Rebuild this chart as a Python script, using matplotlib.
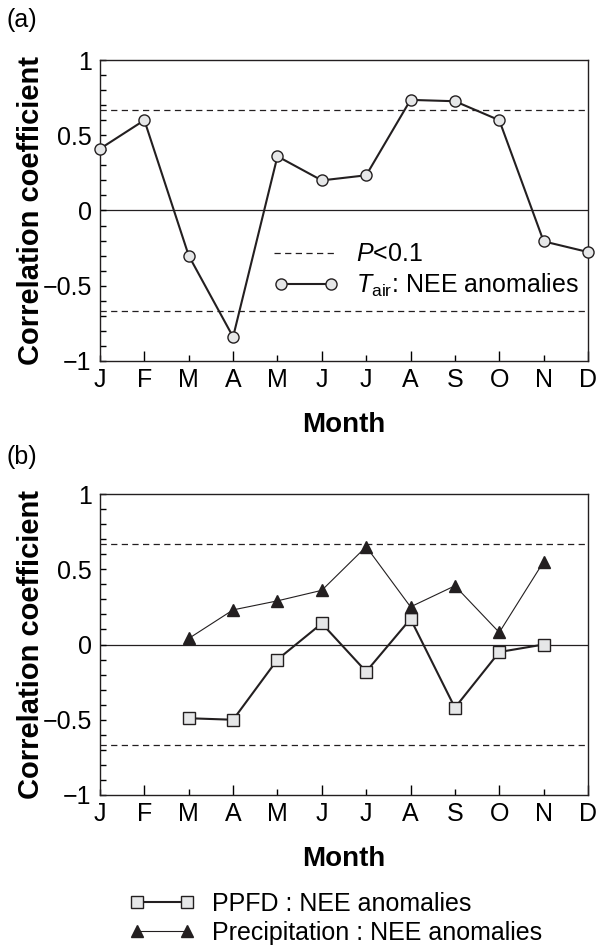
import matplotlib
matplotlib.use("Agg")
import matplotlib.pyplot as plt
from matplotlib.legend_handler import HandlerLine2D
import numpy as np

plt.rcParams.update({
    "font.family": ["Liberation Sans", "DejaVu Sans"],
    "mathtext.fontset": "custom",
    "mathtext.rm": "Liberation Sans",
    "mathtext.it": "Liberation Sans:italic",
    "axes.unicode_minus": True,
    "axes.linewidth": 1.0,
})

INK = "#231f20"
FACE = "#e6e7e8"
DASH = (0, (5, 3.5))

months = ["J", "F", "M", "A", "M", "J", "J", "A", "S", "O", "N", "D"]
sig_level = 0.67

# panel (a): T_air vs NEE anomalies, Jan..Dec
tair_r = [0.41, 0.60, -0.30, -0.84, 0.36, 0.20, 0.234, 0.735, 0.726, 0.60, -0.205, -0.276]

# panel (b): Mar..Nov
b_months = [2, 3, 4, 5, 6, 7, 8, 9, 10]
ppfd_r = [-0.49, -0.50, -0.10, 0.14, -0.18, 0.17, -0.42, -0.05, 0.0]
precip_r = [0.04, 0.23, 0.29, 0.36, 0.65, 0.25, 0.39, 0.08, 0.55]

W, H = 597, 946
fig = plt.figure(figsize=(W / 100, H / 100), dpi=100)
FS = 18


def frame(ax):
    ax.set_xlim(0, 11)
    ax.set_ylim(-1, 1)
    ax.axhline(0, color=INK, linewidth=0.9, zorder=1)
    for v in (sig_level, -sig_level):
        ax.axhline(v, color=INK, linewidth=0.9, linestyle=DASH, zorder=1)
    odd = list(range(1, 12, 2))
    even = list(range(0, 12, 2))
    ax.set_xticks(odd, [months[i] for i in odd])
    ax.set_xticks(even, [months[i] for i in even], minor=True)
    ax.set_yticks([-1, -0.5, 0, 0.5, 1], ["\u22121", "\u22120.5", "0", "0.5", "1"])
    ax.set_yticks(np.arange(-0.9, 0.95, 0.1), minor=True)
    ax.tick_params(axis="x", which="major", direction="in", length=7, width=1,
                   labelsize=FS, pad=5, top=False)
    ax.tick_params(axis="x", which="minor", direction="in", length=4, width=1,
                   labelsize=FS, pad=5, top=False)
    ax.tick_params(axis="y", which="both", direction="in", length=4, width=1,
                   labelsize=FS, pad=6, right=False)
    ax.set_xlabel("Month", fontsize=20, fontweight="bold", labelpad=14.5)
    ax.set_ylabel("Correlation coefficient", fontsize=21, fontweight="bold")
    ax.yaxis.set_label_coords(-0.112, 0.5)
    for s in ax.spines.values():
        s.set_color(INK)


LEG = dict(frameon=False, fontsize=FS, numpoints=2, handlelength=2.6,
           handletextpad=0.7, labelspacing=0.2, borderaxespad=0, borderpad=0)

l = 100 / W
w = (588 - 100) / W
ax1 = fig.add_axes([l, 1 - 361 / H, w, (361 - 60) / H])
ax2 = fig.add_axes([l, 1 - 795 / H, w, (795 - 494) / H])

frame(ax1)
x = np.arange(12)
tair_line, = ax1.plot(x, tair_r, color=INK, linewidth=1.5, marker="o", markersize=8,
                      markerfacecolor=FACE, markeredgecolor=INK, markeredgewidth=1.0,
                      clip_on=False, zorder=3)
dash_handle, = ax1.plot([], [], color=INK, linewidth=0.9, linestyle=DASH)
ax1.legend([dash_handle, tair_line],
           [r"$P$<0.1", r"$T_{\mathrm{air}}$: NEE anomalies"],
           loc="center left", bbox_to_anchor=(273 / W, 1 - 270.5 / H),
           bbox_transform=fig.transFigure,
           handler_map={dash_handle: HandlerLine2D(marker_pad=0.05)}, **LEG)

frame(ax2)
ppfd_line, = ax2.plot(b_months, ppfd_r, color=INK, linewidth=1.5, marker="s", markersize=8,
                      markerfacecolor=FACE, markeredgecolor=INK, markeredgewidth=1.0,
                      zorder=3)
precip_line, = ax2.plot(b_months, precip_r, color=INK, linewidth=0.8, marker="^", markersize=9,
                        markerfacecolor=INK, markeredgecolor=INK, zorder=3)
ax2.legend([ppfd_line, precip_line],
           ["PPFD : NEE anomalies", "Precipitation : NEE anomalies"],
           loc="center left", bbox_to_anchor=(129 / W, 1 - 918.5 / H),
           bbox_transform=fig.transFigure, **LEG)

fig.text(7 / W, 1 - 20 / H, "(a)", fontsize=FS, va="center", ha="left")
fig.text(7 / W, 1 - 457 / H, "(b)", fontsize=FS, va="center", ha="left")

fig.savefig("out.png", dpi=100)
